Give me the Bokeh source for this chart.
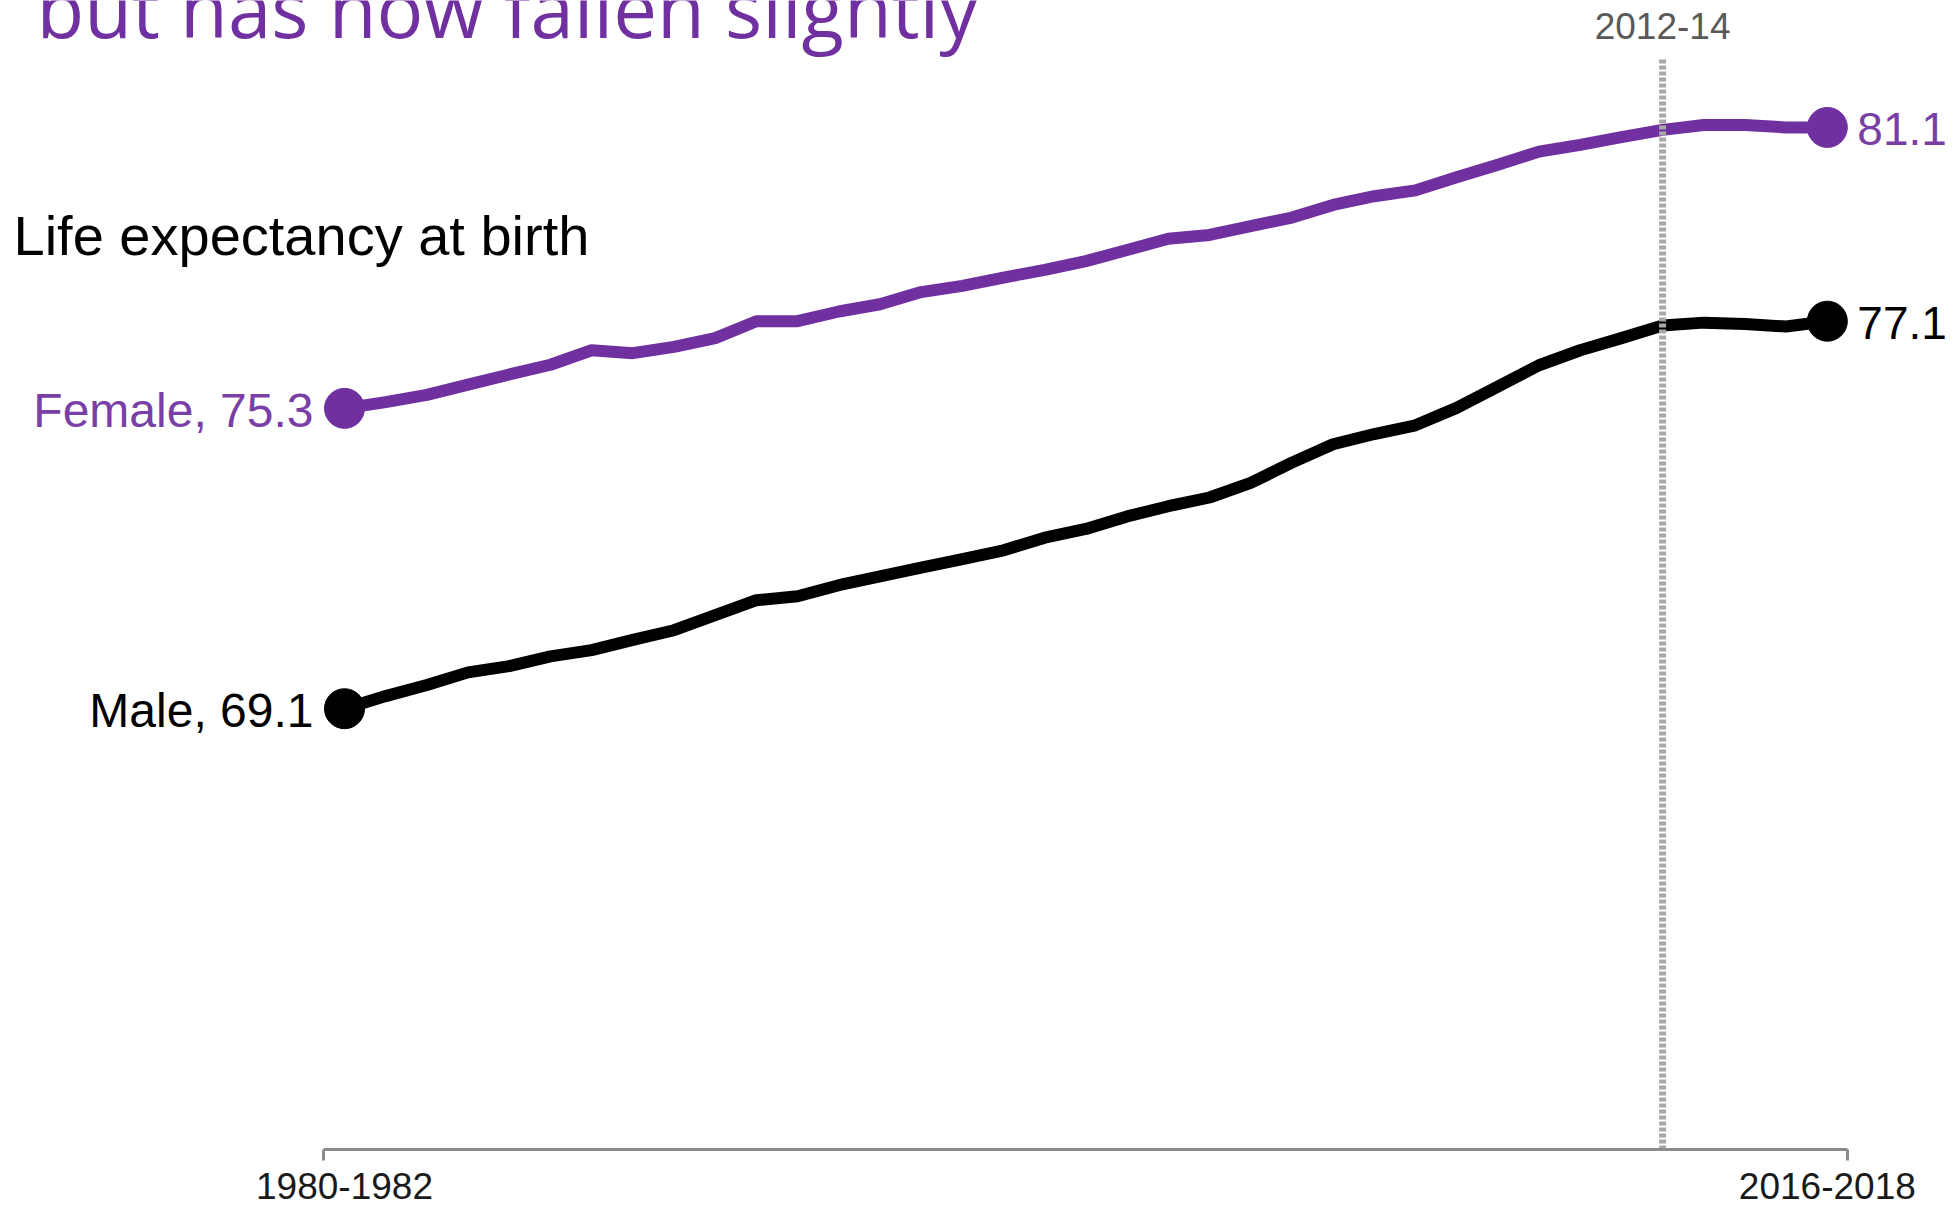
from bokeh.plotting import figure
from bokeh.models import FixedTicker, LinearAxis, Range1d
from bokeh.embed import file_html
from bokeh.resources import INLINE
from bokeh.core.properties import value

# ---------------- data ----------------
periods = [
    "1980-1982", "1981-1983", "1982-1984", "1983-1985", "1984-1986", "1985-1987",
    "1986-1988", "1987-1989", "1988-1990", "1989-1991", "1990-1992", "1991-1993",
    "1992-1994", "1993-1995", "1994-1996", "1995-1997", "1996-1998", "1997-1999",
    "1998-2000", "1999-2001", "2000-2002", "2001-2003", "2002-2004", "2003-2005",
    "2004-2006", "2005-2007", "2006-2008", "2007-2009", "2008-2010", "2009-2011",
    "2010-2012", "2011-2013", "2012-2014", "2013-2015", "2014-2016", "2015-2017",
    "2016-2018",
]
female = [75.3, 75.43, 75.58, 75.79, 76.0, 76.2, 76.5, 76.44, 76.57, 76.75,
          77.1, 77.1, 77.3, 77.45, 77.7, 77.83, 78.0, 78.16, 78.34, 78.57,
          78.8, 78.88, 79.06, 79.24, 79.5, 79.68, 79.8, 80.07, 80.33, 80.6,
          80.74, 80.9, 81.05, 81.15, 81.15, 81.1, 81.1]
male = [69.1, 69.36, 69.59, 69.85, 69.98, 70.18, 70.31, 70.52, 70.72, 71.03,
        71.34, 71.42, 71.65, 71.83, 72.01, 72.19, 72.37, 72.63, 72.81, 73.07,
        73.28, 73.46, 73.76, 74.18, 74.56, 74.77, 74.95, 75.31, 75.75, 76.19,
        76.5, 76.75, 77.01, 77.07, 77.04, 76.99, 77.1]
female_label = "Female"
male_label = "Male"
highlight_period = "2012-2014"
highlight_label = "2012-14"
title_text = "but has now fallen slightly"
subtitle_text = "Life expectancy at birth"

# ---------------- layout ----------------
PURPLE = "#7030A0"
W, H = 1950, 1206
SX = 41.19          # px per period
X_ORIGIN_PX = 344   # px of first period
SY = 48.44          # px per year of life expectancy
FRAME_H = 1149
BOTTOM = H - FRAME_H
Y0 = 60.0
X0 = -X_ORIGIN_PX / SX
X1 = X0 + W / SX
Y1 = Y0 + FRAME_H / SY


def fx(px):
    return X0 + px / SX


def fy(py):
    return Y1 - py / SY


x = list(range(len(periods)))
hi = periods.index(highlight_period)

p = figure(width=W, height=H, output_backend="svg", toolbar_location=None,
           x_range=Range1d(X0, X1), y_range=Range1d(Y0, Y1),
           x_axis_location=None, y_axis_location=None,
           min_border_left=0, min_border_right=0, min_border_top=0,
           min_border_bottom=BOTTOM)
p.outline_line_color = None
p.background_fill_color = "white"
p.border_fill_color = "white"
p.grid.grid_line_color = None

xaxis = LinearAxis(
    ticker=FixedTicker(ticks=[x[0], x[-1]], minor_ticks=[x[0] - 0.5, x[-1] + 0.5]),
    bounds=(x[0] - 0.5, x[-1] + 0.5),
    major_label_overrides={x[0]: periods[0], x[-1]: periods[-1]},
)
xaxis.axis_line_color = "#8c8c8c"
xaxis.axis_line_width = 3
xaxis.major_tick_out = 0
xaxis.major_tick_in = 0
xaxis.major_tick_line_color = None
xaxis.minor_tick_out = 11
xaxis.minor_tick_in = 0
xaxis.minor_tick_line_color = "#8c8c8c"
xaxis.minor_tick_line_width = 3
xaxis.major_label_text_font = "Liberation Sans"
xaxis.major_label_text_font_size = "37px"
xaxis.major_label_text_color = "#1a1a1a"
xaxis.major_label_standoff = 12
p.add_layout(xaxis, "below")

# lines
p.line(x, female, line_color=PURPLE, line_width=12, line_join="round", line_cap="round")
p.line(x, male, line_color="black", line_width=12, line_join="round", line_cap="round")
p.scatter([x[0], x[-1]], [female[0], female[-1]], size=40, color=PURPLE)
p.scatter([x[0], x[-1]], [male[0], male[-1]], size=40, color="black")

# highlight line
p.segment(x0=[hi], y0=[Y0], x1=[hi], y1=[82.5], line_color="#a8a8a8",
          line_width=7, line_dash="4 2")

LAB_FONT = value("Liberation Sans")
p.text(x=[hi], y=[fy(25)], text=[highlight_label], text_align="center",
       text_baseline="alphabetic", text_font=LAB_FONT, text_font_size="37px",
       text_color="#595959")

# end labels
p.text(x=[x[0]], y=[female[0]], text=[f"{female_label}, {female[0]}"],
       text_align="right", text_baseline="alphabetic", x_offset=-31, y_offset=2,
       text_font=LAB_FONT, text_font_size="48px", text_color="#7a3fa6")
p.text(x=[x[0]], y=[male[0]], text=[f"{male_label}, {male[0]}"],
       text_align="right", text_baseline="alphabetic", x_offset=-31, y_offset=2,
       text_font=LAB_FONT, text_font_size="48px", text_color="black")
p.text(x=[x[-1]], y=[female[-1]], text=[f"{female[-1]}"],
       text_align="left", text_baseline="alphabetic", x_offset=30, y_offset=2,
       text_font=LAB_FONT, text_font_size="46px", text_color="#7a3fa6")
p.text(x=[x[-1]], y=[male[-1]], text=[f"{male[-1]}"],
       text_align="left", text_baseline="alphabetic", x_offset=30, y_offset=2,
       text_font=LAB_FONT, text_font_size="46px", text_color="black")

# title and subtitle
p.text(x=[fx(36)], y=[fy(7)], text=[title_text], text_align="left",
       text_baseline="alphabetic", text_font=value("Open Sans"),
       text_font_size="78px", text_color=PURPLE)
p.text(x=[fx(13)], y=[fy(235)], text=[subtitle_text], text_align="left",
       text_baseline="alphabetic", text_font=LAB_FONT,
       text_font_size="56px", text_color="black")

open("out.html", "w").write(file_html(p, INLINE))
